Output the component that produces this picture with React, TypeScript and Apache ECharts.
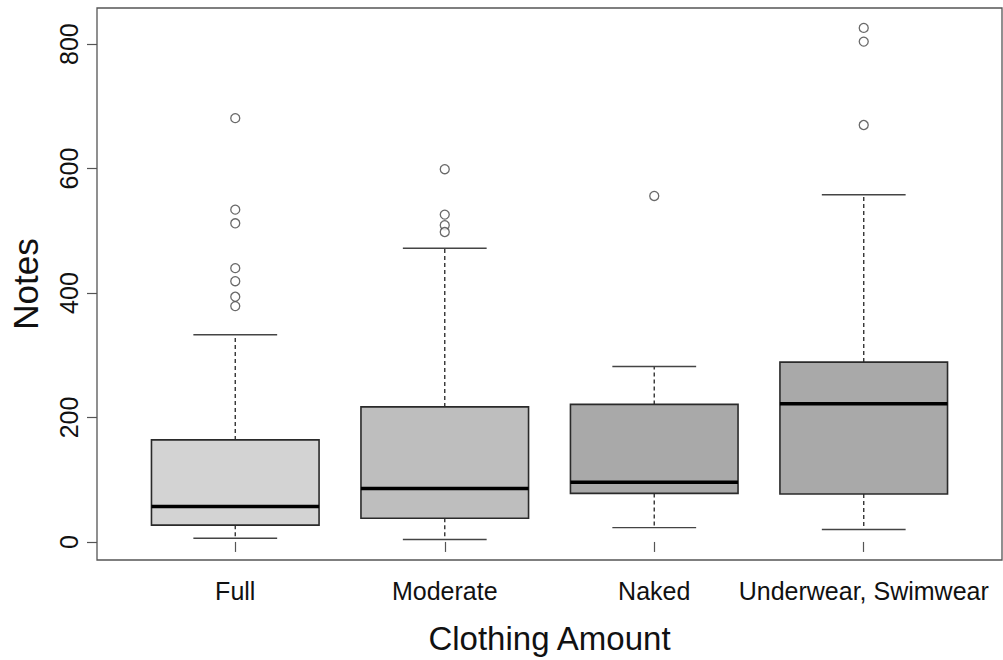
import React, { useEffect, useRef } from "react";
import * as echarts from "echarts";

const categories = ["Full", "Moderate", "Naked", "Underwear, Swimwear"];
const lowerWhisker = [6, 4, 23, 20];
const q1 = [27, 38, 78, 77];
const median = [57, 86, 96, 222];
const q3 = [164, 217, 221, 289];
const upperWhisker = [333, 472, 282, 558];
const outliersFull = [681, 534, 512, 440, 419, 394, 379];
const outliersModerate = [599, 526, 509, 498];
const outliersNaked = [556];
const outliersUnderwear = [826, 804, 670];
const yTicks = [0, 200, 400, 600, 800];
const xTicks = [1, 2, 3, 4];

const boxFills = ["#d3d3d3", "#bebebe", "#a9a9a9", "#a9a9a9"];
const FONT = "'Liberation Sans', Arial, sans-serif";

export default function App() {
  const ref = useRef<HTMLDivElement>(null);

  useEffect(() => {
    if (!ref.current) return;
    const chart = echarts.init(ref.current, null, { renderer: "svg" });

    const boxData = categories.map((_, i) => [
      i + 1,
      lowerWhisker[i],
      q1[i],
      median[i],
      q3[i],
      upperWhisker[i],
    ]);
    const outlierGroups = [outliersFull, outliersModerate, outliersNaked, outliersUnderwear];
    const outlierData: number[][] = [];
    outlierGroups.forEach((g, i) => g.forEach((v) => outlierData.push([i + 1, v])));

    const renderItem = (params: any, api: any) => {
      const x = api.value(0);
      const idx = params.dataIndex;
      const lw = api.coord([x, api.value(1)]);
      const b1 = api.coord([x, api.value(2)]);
      const md = api.coord([x, api.value(3)]);
      const b3 = api.coord([x, api.value(4)]);
      const uw = api.coord([x, api.value(5)]);
      const halfW = api.size([0.4, 0])[0];
      const capHalf = halfW / 2;
      const cx = lw[0];
      const dash = { stroke: "#333", lineWidth: 1.4, lineDash: [4, 3] };
      const cap = { stroke: "#444", lineWidth: 1.4 };
      return {
        type: "group",
        children: [
          { type: "line", shape: { x1: cx, y1: b3[1], x2: cx, y2: uw[1] }, style: dash },
          { type: "line", shape: { x1: cx, y1: b1[1], x2: cx, y2: lw[1] }, style: dash },
          { type: "line", shape: { x1: cx - capHalf, y1: uw[1], x2: cx + capHalf, y2: uw[1] }, style: cap },
          { type: "line", shape: { x1: cx - capHalf, y1: lw[1], x2: cx + capHalf, y2: lw[1] }, style: cap },
          {
            type: "rect",
            shape: { x: cx - halfW, y: b3[1], width: 2 * halfW, height: b1[1] - b3[1] },
            style: { fill: boxFills[idx], stroke: "#2a2a2a", lineWidth: 1.6 },
          },
          {
            type: "line",
            shape: { x1: cx - halfW, y1: md[1], x2: cx + halfW, y2: md[1] },
            style: { stroke: "#000", lineWidth: 3.5 },
          },
        ],
      };
    };

    chart.setOption({
      animation: false,
      backgroundColor: "#fff",
      grid: {
        left: 96,
        right: 1,
        top: 8,
        bottom: 100,
        show: true,
        borderColor: "#555",
        borderWidth: 1.3,
        backgroundColor: "transparent",
      },
      xAxis: {
        type: "value",
        min: 0.34,
        max: 4.66,
        splitLine: { show: false },
        axisLine: { show: false },
        axisTick: {
          show: true,
          customValues: xTicks,
          length: 10,
          lineStyle: { color: "#555", width: 1.2 },
        },
        axisLabel: {
          customValues: xTicks,
          formatter: (v: number) => categories[Math.round(v) - 1] ?? "",
          fontSize: 25,
          color: "#111",
          fontFamily: FONT,
          margin: 18,
        },
        name: "Clothing Amount",
        nameLocation: "middle",
        nameGap: 62,
        nameTextStyle: { fontSize: 33, color: "#111", fontFamily: FONT },
      },
      yAxis: {
        type: "value",
        min: -29,
        max: 858,
        splitLine: { show: false },
        axisLine: { show: false },
        axisTick: {
          show: true,
          customValues: yTicks,
          length: 10,
          lineStyle: { color: "#555", width: 1.2 },
        },
        axisLabel: {
          customValues: yTicks,
          rotate: 90,
          fontSize: 25,
          color: "#111",
          fontFamily: FONT,
          margin: 16,
        },
        name: "Notes",
        nameLocation: "middle",
        nameGap: 54,
        nameTextStyle: { fontSize: 35, color: "#111", fontFamily: FONT },
      },
      series: [
        {
          type: "custom",
          renderItem,
          data: boxData,
          encode: { x: 0, y: [1, 2, 3, 4, 5] },
          clip: false,
          z: 2,
        },
        {
          type: "scatter",
          data: outlierData,
          symbol: "circle",
          symbolSize: 9,
          itemStyle: { color: "#fff", borderColor: "#444", borderWidth: 1.3 },
          z: 3,
        },
      ],
    });

    return () => chart.dispose();
  }, []);

  return (
    <div
      ref={ref}
      style={{ position: "absolute", left: 0, top: 0, width: 1003, height: 660 }}
    />
  );
}
